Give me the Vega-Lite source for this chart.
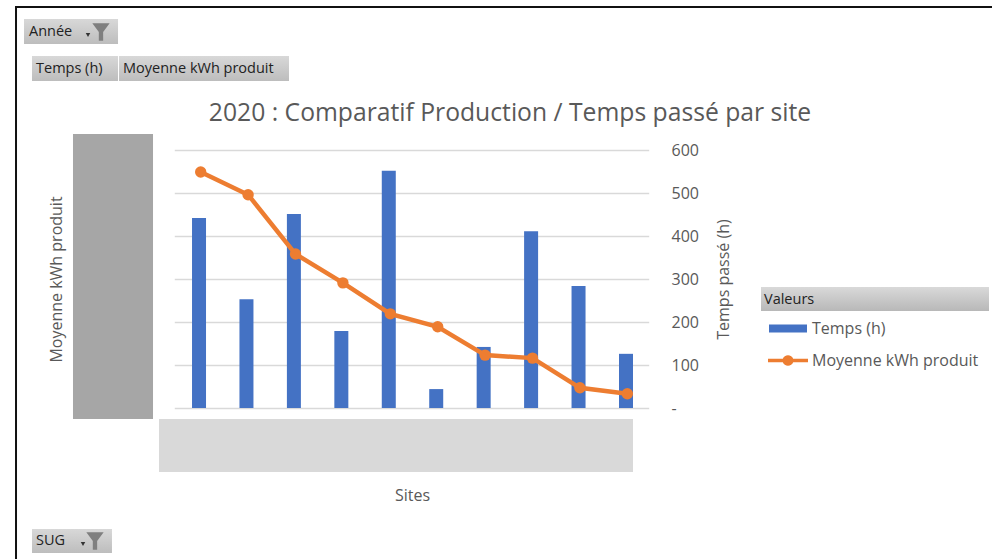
{
"$schema":"https://vega.github.io/schema/vega-lite/v6.json",
"width":476,"height":258,
"autosize":{"type":"none"},
"padding":{"left":174,"top":150,"right":342,"bottom":151},
"background":"white",
"title":{"text":"2020 : Comparatif Production / Temps passé par site","font":"Open Sans","fontSize":24.7,"fontWeight":"normal","color":"#595959","anchor":"middle","dx":98,"offset":27,"dy":147},
"config":{"view":{"stroke":null}},
"datasets":{
"sites":[
{"site":"Site 1","temps":442,"kwh":549},
{"site":"Site 2","temps":253,"kwh":496},
{"site":"Site 3","temps":451,"kwh":358},
{"site":"Site 4","temps":179,"kwh":291},
{"site":"Site 5","temps":552,"kwh":219},
{"site":"Site 6","temps":44,"kwh":189},
{"site":"Site 7","temps":142,"kwh":123},
{"site":"Site 8","temps":411,"kwh":116},
{"site":"Site 9","temps":284,"kwh":47},
{"site":"Site 10","temps":126,"kwh":33}
],
"one":[{"item":"chrome"}]
},
"resolve":{"scale":{"x":"independent","y":"independent"},"axis":{"x":"independent","y":"independent"}},
"layer":[
{"data":{"name":"sites"},"mark":{"type":"bar","size":14},
 "encoding":{
  "x":{"field":"site","type":"nominal","sort":null,"scale":{"range":[1.3,475.7]},"axis":{"title":"Sites","titleFont":"Open Sans","titleFontSize":16,"titleFontWeight":"normal","titleColor":"#595959","titleX":238,"titleY":79,"labels":false,"ticks":false,"domain":false,"grid":false}},
  "y":{"field":"temps","type":"quantitative","scale":{"domain":[0,600],"nice":false},"axis":{"orient":"right","title":"Temps passé (h)","titleFont":"Open Sans","titleFontSize":16,"titleFontWeight":"normal","titleColor":"#595959","titleAngle":270,"titleBaseline":"middle","titleX":73,"titleY":129,"values":[0,100,200,300,400,500,600],"labelExpr":"datum.value==0?'-':datum.label","labelFont":"Open Sans","labelFontSize":16,"labelColor":"#595959","labelAlign":"left","labelPadding":21,"ticks":false,"domain":false,"grid":true,"gridColor":"#d9d9d9","gridWidth":1.5}},
  "color":{"datum":"Temps (h)","scale":{"domain":["Temps (h)","Moyenne kWh produit"],"range":["#4472c4","#ed7d31"]},
   "legend":{"orient":"none","legendX":590,"legendY":143,"title":"Valeurs","titleFont":"Open Sans","titleFontSize":14.5,"titleFontWeight":"normal","titleColor":"#222222","titlePadding":1,"labelFont":"Open Sans","labelFontSize":16,"labelColor":"#595959","labelOffset":8,"labelLimit":300,"rowPadding":4,"symbolSize":1600,"symbolType":"square","padding":0,
    "encode":{"symbols":{"update":{
     "x":{"value":24},
     "shape":{"signal":"datum.label=='Temps (h)'?'M-0.95,-0.2H0.95V0.2H-0.95Z':'M-1,-0.09H-0.26A0.28,0.28 0 0 1 0.26,-0.09H1V0.09H0.26A0.28,0.28 0 0 1 -0.26,0.09H-1Z'"},
     "fill":{"signal":"datum.label=='Temps (h)'?'#4472c4':'#ed7d31'"},
     "stroke":{"value":"transparent"},"strokeWidth":{"value":0},"opacity":{"value":1},"fillOpacity":{"value":1}}}}}}
 }},
{"data":{"name":"sites"},"mark":{"type":"line","strokeWidth":4.5,"point":{"filled":true,"size":130,"opacity":1}},
 "encoding":{
  "x":{"field":"site","type":"nominal","sort":null,"scale":{"range":[3,477]},"axis":null},
  "y":{"field":"kwh","type":"quantitative","scale":{"domain":[0,600],"nice":false},"axis":{"orient":"left","title":"Moyenne kWh produit","titleFont":"Open Sans","titleFontSize":16,"titleFontWeight":"normal","titleColor":"#595959","titleBaseline":"middle","titleX":-118,"titleY":129,"labels":false,"ticks":false,"domain":false,"grid":false}},
  "color":{"datum":"Moyenne kWh produit"}
 }},
{"data":{"name":"one"},"mark":{"type":"rect","color":"#a6a6a6"},"encoding":{"x":{"datum":-1.622,"type":"quantitative","scale":{"domain":[0.5,10.5],"nice":false,"zero":false},"axis":null},"x2":{"datum":0.059},"y":{"datum":637.2,"type":"quantitative","scale":{"domain":[0,600],"nice":false},"axis":null},"y2":{"datum":-25.6}}},
{"data":{"name":"one"},"mark":{"type":"rect","color":"#d9d9d9"},"encoding":{"x":{"datum":0.185,"type":"quantitative","scale":{"domain":[0.5,10.5],"nice":false,"zero":false},"axis":null},"x2":{"datum":10.143},"y":{"datum":-25.6,"type":"quantitative","scale":{"domain":[0,600],"nice":false},"axis":null},"y2":{"datum":-148.8}}},
{"data":{"name":"one"},"mark":{"type":"rule","color":"#111111","strokeWidth":2},"encoding":{"x":{"datum":-2.84,"type":"quantitative","scale":{"domain":[0.5,10.5],"nice":false,"zero":false},"axis":null},"x2":{"datum":17.685},"y":{"datum":932.6,"type":"quantitative","scale":{"domain":[0,600],"nice":false},"axis":null}}},
{"data":{"name":"one"},"mark":{"type":"rule","color":"#111111","strokeWidth":2},"encoding":{"x":{"datum":-2.819,"type":"quantitative","scale":{"domain":[0.5,10.5],"nice":false,"zero":false},"axis":null},"y":{"datum":932.6,"type":"quantitative","scale":{"domain":[0,600],"nice":false},"axis":null},"y2":{"datum":-351.2}}},
{"data":{"name":"one"},"mark":{"type":"rect","color":{"gradient":"linear","x1":0,"y1":0,"x2":0,"y2":1,"stops":[{"offset":0,"color":"#d8d8d8"},{"offset":1,"color":"#bdbdbd"}]}},"encoding":{"x":{"datum":-2.651,"type":"quantitative","scale":{"domain":[0.5,10.5],"nice":false,"zero":false},"axis":null},"x2":{"datum":-0.676},"y":{"datum":904.7,"type":"quantitative","scale":{"domain":[0,600],"nice":false},"axis":null},"y2":{"datum":846.5}}},
{"data":{"name":"one"},"mark":{"type":"rect","color":{"gradient":"linear","x1":0,"y1":0,"x2":0,"y2":1,"stops":[{"offset":0,"color":"#d8d8d8"},{"offset":1,"color":"#bdbdbd"}]}},"encoding":{"x":{"datum":-2.483,"type":"quantitative","scale":{"domain":[0.5,10.5],"nice":false,"zero":false},"axis":null},"x2":{"datum":-0.676},"y":{"datum":818.6,"type":"quantitative","scale":{"domain":[0,600],"nice":false},"axis":null},"y2":{"datum":760.5}}},
{"data":{"name":"one"},"mark":{"type":"rect","color":{"gradient":"linear","x1":0,"y1":0,"x2":0,"y2":1,"stops":[{"offset":0,"color":"#d8d8d8"},{"offset":1,"color":"#bdbdbd"}]}},"encoding":{"x":{"datum":-0.655,"type":"quantitative","scale":{"domain":[0.5,10.5],"nice":false,"zero":false},"axis":null},"x2":{"datum":2.916},"y":{"datum":818.6,"type":"quantitative","scale":{"domain":[0,600],"nice":false},"axis":null},"y2":{"datum":760.5}}},
{"data":{"name":"one"},"mark":{"type":"rect","color":{"gradient":"linear","x1":0,"y1":0,"x2":0,"y2":1,"stops":[{"offset":0,"color":"#d8d8d8"},{"offset":1,"color":"#bdbdbd"}]}},"encoding":{"x":{"datum":-2.483,"type":"quantitative","scale":{"domain":[0.5,10.5],"nice":false,"zero":false},"axis":null},"x2":{"datum":-0.803},"y":{"datum":-281.4,"type":"quantitative","scale":{"domain":[0,600],"nice":false},"axis":null},"y2":{"datum":-337.2}}},
{"data":{"name":"one"},"mark":{"type":"rect","color":{"gradient":"linear","x1":0,"y1":0,"x2":0,"y2":1,"stops":[{"offset":0,"color":"#d9d9d9"},{"offset":1,"color":"#b8b8b8"}]}},"encoding":{"x":{"datum":12.832,"type":"quantitative","scale":{"domain":[0.5,10.5],"nice":false,"zero":false},"axis":null},"x2":{"datum":17.622},"y":{"datum":281.4,"type":"quantitative","scale":{"domain":[0,600],"nice":false},"axis":null},"y2":{"datum":225.6}}},
{"data":{"name":"one"},"mark":{"type":"text","align":"left","baseline":"middle","font":"Open Sans","fontSize":14.5,"color":"#222222","text":"Année"},"encoding":{"x":{"datum":-2.546,"type":"quantitative","scale":{"domain":[0.5,10.5],"nice":false,"zero":false},"axis":null},"y":{"datum":874.4,"type":"quantitative","scale":{"domain":[0,600],"nice":false},"axis":null}}},
{"data":{"name":"one"},"mark":{"type":"text","align":"left","baseline":"middle","font":"Open Sans","fontSize":14.5,"color":"#222222","text":"Temps (h)"},"encoding":{"x":{"datum":-2.399,"type":"quantitative","scale":{"domain":[0.5,10.5],"nice":false,"zero":false},"axis":null},"y":{"datum":788.4,"type":"quantitative","scale":{"domain":[0,600],"nice":false},"axis":null}}},
{"data":{"name":"one"},"mark":{"type":"text","align":"left","baseline":"middle","font":"Open Sans","fontSize":14.5,"color":"#222222","text":"Moyenne kWh produit"},"encoding":{"x":{"datum":-0.571,"type":"quantitative","scale":{"domain":[0.5,10.5],"nice":false,"zero":false},"axis":null},"y":{"datum":788.4,"type":"quantitative","scale":{"domain":[0,600],"nice":false},"axis":null}}},
{"data":{"name":"one"},"mark":{"type":"text","align":"left","baseline":"middle","font":"Open Sans","fontSize":14.5,"color":"#222222","text":"SUG"},"encoding":{"x":{"datum":-2.399,"type":"quantitative","scale":{"domain":[0.5,10.5],"nice":false,"zero":false},"axis":null},"y":{"datum":-309.3,"type":"quantitative","scale":{"domain":[0,600],"nice":false},"axis":null}}},
{"data":{"name":"one"},"mark":{"type":"point","filled":true,"opacity":1,"color":"#7f7f7f","size":300,"shape":"M-1,-1H1L0.25,0V1H-0.25V0Z"},"encoding":{"x":{"datum":-1.034,"type":"quantitative","scale":{"domain":[0.5,10.5],"nice":false,"zero":false},"axis":null},"y":{"datum":874.4,"type":"quantitative","scale":{"domain":[0,600],"nice":false},"axis":null}}},
{"data":{"name":"one"},"mark":{"type":"point","filled":true,"opacity":1,"color":"#7f7f7f","size":300,"shape":"M-1,-1H1L0.25,0V1H-0.25V0Z"},"encoding":{"x":{"datum":-1.16,"type":"quantitative","scale":{"domain":[0.5,10.5],"nice":false,"zero":false},"axis":null},"y":{"datum":-309.3,"type":"quantitative","scale":{"domain":[0,600],"nice":false},"axis":null}}},
{"data":{"name":"one"},"mark":{"type":"point","filled":true,"opacity":1,"color":"#333333","size":20,"shape":"triangle-down"},"encoding":{"x":{"datum":-1.307,"type":"quantitative","scale":{"domain":[0.5,10.5],"nice":false,"zero":false},"axis":null},"y":{"datum":867.4,"type":"quantitative","scale":{"domain":[0,600],"nice":false},"axis":null}}},
{"data":{"name":"one"},"mark":{"type":"point","filled":true,"opacity":1,"color":"#333333","size":20,"shape":"triangle-down"},"encoding":{"x":{"datum":-1.412,"type":"quantitative","scale":{"domain":[0.5,10.5],"nice":false,"zero":false},"axis":null},"y":{"datum":-316.3,"type":"quantitative","scale":{"domain":[0,600],"nice":false},"axis":null}}}
]
}
